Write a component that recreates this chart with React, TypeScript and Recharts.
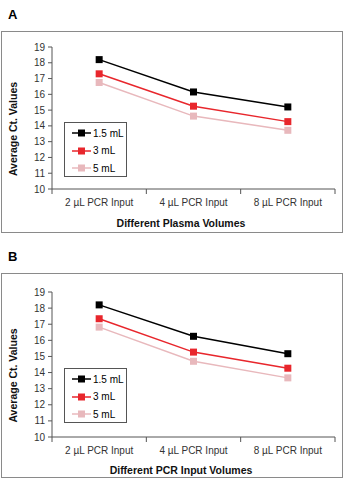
import React from 'react';
import { LineChart, Line, XAxis, YAxis, Legend } from 'recharts';

const categories = ['2 µL PCR Input', '4 µL PCR Input', '8 µL PCR Input'];
const seriesNames = ['1.5 mL', '3 mL', '5 mL'];
const seriesColors = ['#000000', '#e8262c', '#e8b8bc'];
const yTicks = [10, 11, 12, 13, 14, 15, 16, 17, 18, 19];
const xTicks = [0, 0.5, 1, 1.5, 2, 2.5, 3];

// panel A - plasma volumes
const plasma15 = [18.2, 16.15, 15.2];
const plasma3 = [17.3, 15.25, 14.27];
const plasma5 = [16.75, 14.62, 13.72];

// panel B - PCR input volumes
const pcr15 = [18.2, 16.25, 15.17];
const pcr3 = [17.34, 15.27, 14.27];
const pcr5 = [16.82, 14.7, 13.67];

const FONT = '"Liberation Sans", Arial, sans-serif';

const buildRows = (a: number[], b: number[], c: number[]) =>
    categories.map((cat, i) => ({ x: i + 0.5, cat, s0: a[i], s1: b[i], s2: c[i] }));

const SquareDot = (props: any) => {
    const { cx, cy, stroke } = props;
    if (cx === undefined || cy === undefined) return null;
    return <rect x={cx - 3.5} y={cy - 3.5} width={7} height={7} fill={stroke} stroke="none" />;
};

const XTick = (props: any) => {
    const { x, y, payload, labelDy } = props;
    const v = payload.value;
    if (Number.isInteger(v)) {
        return <line x1={x} y1={y} x2={x} y2={y + 5} stroke="#555" strokeWidth={1} />;
    }
    const idx = Math.floor(v);
    return (
        <text x={x} y={y + labelDy} textAnchor="middle" fontSize={10} fill="#333" fontFamily={FONT}>
            {categories[idx]}
        </text>
    );
};

const LegendBox = () => (
    <div style={{
        width: 61,
        height: 53,
        border: '1px solid #555',
        background: '#fff',
        position: 'relative',
        fontFamily: FONT,
        fontSize: 10,
    }}>
        {seriesNames.map((name, i) => (
            <div key={name} style={{ position: 'absolute', left: 7, top: 4 + i * 17.5, height: 12, display: 'flex', alignItems: 'center' }}>
                <svg width={19} height={12}>
                    <line x1={0} y1={6} x2={19} y2={6} stroke={seriesColors[i]} strokeWidth={1.5} />
                    <rect x={6} y={2.5} width={7} height={7} fill={seriesColors[i]} />
                </svg>
                <span style={{ marginLeft: 2, color: '#000' }}>{name}</span>
            </div>
        ))}
    </div>
);

interface PanelProps {
    letter: string;
    title: string;
    rows: any[];
    top: number;
    height: number;
    plotTop: number;
    plotBottom: number;
    labelDy: number;
    titleY: number;
    legendTop: number;
}

const Panel = ({ letter, title, rows, top, height, plotTop, plotBottom, labelDy, titleY, legendTop }: PanelProps) => (
    <>
        <div style={{ position: 'absolute', left: 8, top: top - 24, fontFamily: FONT, fontWeight: 'bold', fontSize: 13 }}>
            {letter}
        </div>
        <div style={{
            position: 'absolute',
            left: 1,
            top,
            width: 342,
            height: height + 2,
            boxSizing: 'border-box',
            border: '1px solid #8a8a8a',
            background: '#fff',
        }}>
            <LineChart
                width={340}
                height={height}
                data={rows}
                margin={{ top: plotTop, right: 7, bottom: 0, left: 0 }}
            >
                <XAxis
                    dataKey="x"
                    type="number"
                    domain={[0, 3]}
                    ticks={xTicks}
                    interval={0}
                    tickSize={0}
                    tickMargin={0}
                    tickLine={false}
                    height={height - plotBottom}
                    axisLine={{ stroke: '#555' }}
                    tick={<XTick labelDy={labelDy} />}
                    label={() => (
                        <text x={179} y={titleY} textAnchor="middle" fontSize={10.5} fontWeight="bold" fill="#111" fontFamily={FONT}>
                            {title}
                        </text>
                    )}
                />
                <YAxis
                    domain={[10, 19]}
                    ticks={yTicks}
                    interval={0}
                    width={50}
                    tickSize={4}
                    tickMargin={3}
                    axisLine={{ stroke: '#555' }}
                    tickLine={{ stroke: '#555' }}
                    tick={{ fontSize: 10, fill: '#333', fontFamily: FONT }}
                    label={() => (
                        <text
                            x={15}
                            y={(plotTop + plotBottom) / 2 + 11}
                            transform={`rotate(-90, 15, ${(plotTop + plotBottom) / 2 + 11})`}
                            textAnchor="middle"
                            fontSize={10.5}
                            fontWeight="bold"
                            fill="#111"
                            fontFamily={FONT}
                        >
                            Average Ct. Values
                        </text>
                    )}
                />
                <Legend
                    verticalAlign="middle"
                    layout="horizontal"
                    wrapperStyle={{ left: 62, top: legendTop, width: 63 }}
                    content={() => <LegendBox />}
                />
                {seriesNames.map((name, i) => (
                    <Line
                        key={name}
                        dataKey={`s${i}`}
                        name={name}
                        type="linear"
                        stroke={seriesColors[i]}
                        strokeWidth={1.5}
                        dot={<SquareDot />}
                        activeDot={false}
                        isAnimationActive={false}
                    />
                ))}
            </LineChart>
        </div>
    </>
);

export default function App() {
    return (
        <div style={{ position: 'absolute', left: 0, top: 0, width: 343, height: 480, background: '#fff', overflow: 'hidden' }}>
            <Panel
                letter="A"
                title="Different Plasma Volumes"
                rows={buildRows(plasma15, plasma3, plasma5)}
                top={31}
                height={200}
                plotTop={15}
                plotBottom={157}
                labelDy={17}
                titleY={195}
                legendTop={90}
            />
            <Panel
                letter="B"
                title="Different PCR Input Volumes"
                rows={buildRows(pcr15, pcr3, pcr5)}
                top={273}
                height={203}
                plotTop={18}
                plotBottom={163}
                labelDy={17}
                titleY={200}
                legendTop={94}
            />
        </div>
    );
}
